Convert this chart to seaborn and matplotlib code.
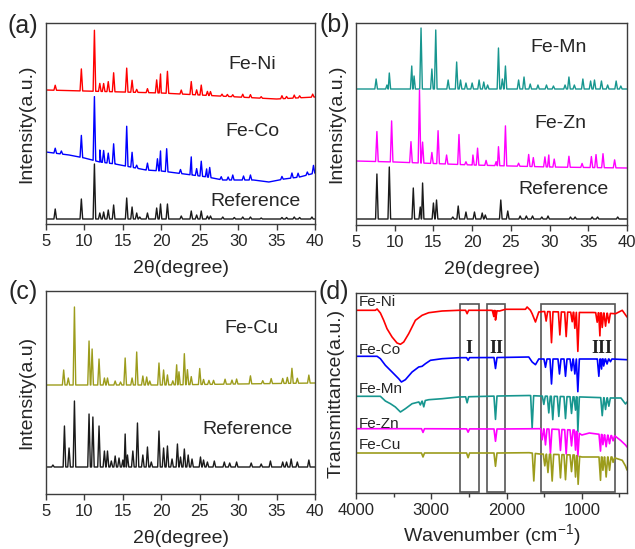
import numpy as np
import pandas as pd
import matplotlib
matplotlib.use('Agg')
from matplotlib import pyplot as plt
from matplotlib.patches import Rectangle
from matplotlib.ticker import MultipleLocator
import seaborn as sns

# ---- (a) XRD: Fe-Ni, Fe-Co, reference (heights in arbitrary units) ----
ni_base_x = [5, 10, 15, 20, 25, 30, 35, 40]
ni_base_y = [134, 133, 132, 131, 129, 127, 125, 127]
ni_pk_x = [6.2, 9.6, 11.3, 12.0, 12.5, 13.1, 13.8, 15.5, 16.2, 16.8, 18.2, 19.4, 19.9, 20.8, 22.6,
           23.9, 24.6, 25.2, 26.0, 26.4, 27.9, 28.6, 29.3, 30.6, 31.6, 33.0, 35.7, 36.3, 37.3, 38.0, 39.7]
ni_pk_i = [5, 22, 61, 8, 8, 10, 19, 24, 12, 3, 4, 13, 19, 22, 4,
           13, 5, 10, 4, 4, 2, 2, 2, 3, 3, 1.5, 3, 2, 3, 2, 3]

co_base_x = [5, 8, 10, 12, 14, 16, 18, 20, 22, 24, 26, 28, 32, 34, 36, 38, 40]
co_base_y = [72, 69, 66, 62, 60, 57, 54, 53, 51, 49, 47, 44, 44, 42, 45, 47, 51]
co_pk_x = [6.2, 7.0, 9.6, 11.3, 12.0, 12.5, 13.1, 13.8, 15.5, 16.2, 16.8, 18.2, 19.5, 19.9, 20.7, 22.5,
           23.9, 24.6, 25.2, 25.9, 26.3, 27.8, 28.7, 29.3, 30.7, 31.6, 35.7, 37.0, 37.8, 39.0, 39.8]
co_pk_i = [5, 3, 22, 64, 12, 12, 10, 20, 40, 15, 3, 7, 12, 20, 23, 4,
           18, 7, 15, 8, 10, 3, 3, 5, 4, 5, 3, 5, 4, 3, 8]

refa_base_x = [5, 40]
refa_base_y = [5, 5]
refa_pk_x = [6.2, 9.6, 11.3, 12.0, 12.5, 13.1, 13.8, 15.5, 16.2, 16.8, 17.2, 18.2, 19.4, 19.9, 20.8, 22.6,
             23.9, 24.6, 25.2, 26.0, 26.4, 28.0, 29.5, 30.6, 31.6, 33.0, 35.7, 36.3, 37.3, 38.0, 39.6]
refa_pk_i = [10, 20, 55, 6, 7, 9, 14, 21, 12, 6, 2, 6, 11, 15, 15, 3,
             8, 4, 8, 3, 3, 2, 1.5, 2, 2, 1, 1.5, 1.5, 2, 1.5, 2]

# ---- (b) XRD: Fe-Mn, Fe-Zn, reference ----
mn_base_x = [5, 40]
mn_base_y = [136, 136]
mn_pk_x = [7.6, 9.0, 9.3, 12.2, 12.5, 13.4, 14.8, 15.3, 16.9, 18.0, 18.5, 19.2, 20.0, 20.9, 21.5, 22.0,
           23.4, 23.9, 24.3, 26.0, 26.7, 27.5, 28.5, 29.6, 30.5, 32.0, 32.5, 33.2, 34.3, 35.3, 35.8,
           36.7, 37.5, 38.6, 39.2]
mn_pk_i = [10, 4, 16, 23, 13, 61, 20, 59, 9, 27, 9, 6, 6, 9, 7, 4,
           41, 10, 23, 9, 12, 5, 4, 4, 3, 4, 12, 4, 10, 8, 9,
           8, 4, 8, 3]

zn_base_x = [5, 10, 20, 30, 40]
zn_base_y = [64, 63, 60, 58, 57]
zn_pk_x = [7.7, 9.6, 12.1, 13.2, 13.6, 14.8, 15.6, 16.7, 18.3, 19.2, 20.1, 20.7, 21.8, 23.1, 23.4,
           24.3, 26.0, 27.3, 27.9, 29.4, 29.9, 30.6, 32.5, 34.2, 35.4, 36.0, 36.9, 38.4]
zn_pk_i = [30, 41, 21, 73, 21, 11, 33, 9, 30, 3, 10, 17, 5, 4, 19,
           40, 3, 12, 9, 10, 12, 8, 11, 4, 11, 13, 14, 8]

refb_base_x = [5, 40]
refb_base_y = [6, 6]
refb_pk_x = [7.7, 9.3, 12.4, 13.3, 13.6, 15.0, 15.4, 17.5, 18.2, 19.2, 20.3, 21.3, 21.7, 23.7, 24.6,
             26.2, 27.0, 27.8, 29.0, 29.8, 32.7, 33.3, 35.5, 36.2, 38.8]
refb_pk_i = [45, 52, 31, 12, 36, 16, 19, 2, 13, 7, 7, 6, 4, 19, 8,
             3, 3, 3, 2, 3, 2, 2, 2, 2, 2]

# ---- (c) XRD: Fe-Cu, reference ----
cu_base_x = [5, 20, 40]
cu_base_y = [109, 109, 111]
cu_pk_x = [7.3, 7.9, 8.7, 10.6, 11.0, 11.9, 12.6, 13.0, 14.0, 14.7, 15.3, 16.2, 16.8, 17.6, 18.1, 18.5,
           19.7, 20.3, 20.8, 21.5, 22.0, 22.3, 23.0, 23.4, 23.9, 25.0, 25.5, 26.2, 26.8, 28.3, 29.2,
           29.8, 31.6, 33.2, 34.3, 35.8, 36.4, 37.0, 37.7, 39.2]
cu_pk_i = [15, 7, 78, 44, 36, 26, 7, 7, 4, 3, 27, 7, 33, 9, 8, 4,
           22, 15, 10, 4, 20, 13, 31, 15, 8, 16, 5, 4, 4, 5, 4,
           5, 8, 3, 5, 5, 6, 15, 5, 8]

refc_base_x = [5, 40]
refc_base_y = [27, 27]
refc_pk_x = [5.9, 7.4, 8.0, 8.7, 10.6, 11.1, 11.9, 12.6, 13.0, 13.5, 14.0, 14.5, 15.0, 15.3, 15.6, 16.3,
             16.9, 17.6, 18.2, 18.7, 19.7, 20.3, 20.8, 21.4, 22.1, 22.5, 23.0, 23.5, 24.0, 25.1, 25.5,
             26.0, 26.9, 28.2, 28.9, 29.8, 31.7, 33.0, 34.2, 35.8, 36.3, 36.9, 37.7, 39.2]
refc_pk_i = [2, 41, 19, 66, 53, 50, 41, 16, 16, 6, 11, 9, 7, 33, 12, 16,
             44, 12, 20, 5, 36, 19, 21, 8, 23, 10, 18, 12, 8, 10, 7,
             5, 6, 5, 4, 5, 4, 3, 6, 5, 5, 8, 5, 7]

# ---- (d) FTIR (wavenumber in cm-1, transmittance in arbitrary units) ----
ni_ir_base_x = [4000, 3743, 3720, 3676, 3632, 3588, 3521, 3455, 3410, 3366, 3300, 3211, 3122, 3034, 2856,
                2635, 2210, 2094, 2015, 1749, 1727, 1683, 1660, 1616, 1572, 1505, 1000, 850, 552, 463, 400]
ni_ir_base_y = [182.7, 182.7, 184, 180, 172.7, 164.3, 156, 150, 148.7, 151, 159.3, 172.7, 177.7, 180.3, 182,
                182.7, 182.7, 182, 183.7, 183.7, 186, 182.7, 179.3, 171, 181, 181.5, 180.5, 180.5, 179.3,
                182.7, 176]
ni_ir_dip_x = [2524, 2169, 2147, 1474, 1403, 1292, 1208, 1128, 1093, 1053, 796, 760, 729, 685, 641]
ni_ir_dip_i = [-3.4, -6, -9.4, -9.5, -31, -23, -24.5, -9.5, -16, -39, -9.5, -23, -14.5, -13, -9.5]

co_ir_base_x = [4000, 3720, 3676, 3610, 3521, 3433, 3397, 3344, 3255, 3167, 3122, 3078, 3011, 2856, 2635,
                2100, 1705, 1660, 1616, 1572, 1505, 1000, 800, 600, 400]
co_ir_base_y = [136.7, 136.7, 134.3, 127.7, 121, 114.3, 111, 113.3, 121, 126, 126.7, 129.3, 132.7, 134.3,
                135.3, 135.5, 136, 131, 128.3, 134, 134, 134, 134, 134, 133.3]
co_ir_dip_x = [2511, 2147, 1483, 1403, 1297, 1217, 1137, 1093, 1053, 774, 738, 710, 665, 620]
co_ir_dip_i = [-2.7, -11, -8.3, -25, -15, -17.3, -11.7, -15, -32.7, -17.3, -10, -7, -5, -2.7]

mn_ir_base_x = [4000, 3676, 3610, 3543, 3477, 3410, 3344, 3255, 3167, 3034, 2856, 2635, 2100, 1700, 1560,
                1000, 600, 480, 420, 400]
mn_ir_base_y = [96.7, 96.7, 92, 89.3, 86, 81, 84.3, 89.3, 91, 93.3, 94.3, 96, 97, 97.5, 97,
                96, 95, 95, 89, 91]
mn_ir_dip_x = [3145, 3100, 2524, 2147, 1660, 1505, 1439, 1386, 1306, 1217, 1137, 1084, 1053, 729, 685, 641]
mn_ir_dip_i = [-3.3, -6, -6, -23.3, -32.3, -8.3, -16.7, -23.3, -20, -22, -16.7, -13.3, -35, -18, -11.7, -8.3]

zn_ir_base_x = [4000, 3200, 2100, 1560, 1100, 1000, 900, 800, 560, 486, 420, 400]
zn_ir_base_y = [64.3, 64.3, 64, 64.3, 63, 58, 60, 59, 57, 52.7, 48, 46]
zn_ir_dip_x = [3110, 2511, 2147, 1527, 1483, 1417, 1284, 1208, 1137, 1084, 1053, 752, 720, 677, 632, 585]
zn_ir_dip_i = [-3.7, -3.3, -12.3, -11, -16, -24.3, -21, -24.3, -16, -19.3, -24.3, -16.7, -10, -11.7, -8.3, -5]

cu_ir_base_x = [4000, 3200, 2100, 1700, 1560, 1100, 1000, 900, 600, 463, 420, 400]
cu_ir_base_y = [40, 40, 40, 40.3, 39, 38, 36, 36, 36, 32.7, 27, 23]
cu_ir_dip_x = [3110, 2511, 2147, 1638, 1492, 1450, 1394, 1284, 1217, 1137, 1084, 1049, 752, 720, 677, 632, 585]
cu_ir_dip_i = [-4, -4.7, -13.3, -27.7, -11.7, -18.3, -26.7, -23.3, -25, -16.7, -21.7, -28.3,
               -23.3, -13.3, -20, -13.3, -5]

ir_regions = [(2620, 2370, 'I'), (2265, 2015, 'II'), (1545, 565, 'III')]

RED, BLUE, BLACK = '#ff0000', '#0000ff', '#1a1a1a'
TEAL, MAGENTA, OLIVE = '#17968f', '#ff00ff', '#9c9c1c'
SPINE = '#3c3c3c'


def _trace(base_x, base_y, pk_x, pk_i, hw):
  # base line through the read points, with a narrow spike/dip at every listed peak
  order = np.argsort(base_x)
  bx = np.asarray(base_x, float)[order]
  by = np.asarray(base_y, float)[order]
  xs = list(bx)
  ys = list(by)
  for p, h in zip(pk_x, pk_i):
    xs += [p - hw, p, p + hw]
    ys += [np.interp(p - hw, bx, by), np.interp(p, bx, by) + h, np.interp(p + hw, bx, by)]
  xs = np.array(xs)
  ys = np.array(ys)
  k = np.argsort(xs, kind='stable')
  return pd.DataFrame({'x': xs[k], 'y': ys[k]})


def _line(ax, df, color, lw):
  sns.lineplot(data=df, x='x', y='y', ax=ax, color=color, lw=lw,
               estimator=None, sort=False, legend=False)


def _frame(ax, ylabel, ymax):
  ax.set_ylim(0, ymax)
  ax.set_yticks([])
  ax.set_ylabel(ylabel, fontsize=14, labelpad=8)
  for s in ax.spines.values():
    s.set_color(SPINE)
    s.set_linewidth(1.0)
  ax.tick_params(axis='x', direction='out', length=4, width=1, labelsize=12,
                 color=SPINE, pad=3)


def _xrd(ax, ylabel, ymax):
  _frame(ax, ylabel, ymax)
  ax.set_xlim(5, 40)
  ax.set_xticks(range(5, 41, 5))
  ax.set_xlabel('2θ(degree)', fontsize=14, labelpad=8)


sns.set_style('ticks')
plt.rcParams['font.family'] = ['Liberation Sans', 'DejaVu Sans']
plt.rcParams['mathtext.default'] = 'regular'

W, H = 635, 549
fig = plt.figure(figsize=(W / 100, H / 100), dpi=100)


def _axes(l, r, t, b):
  return fig.add_axes([l / W, 1 - b / H, (r - l) / W, (b - t) / H])


ax_a = _axes(46, 315, 23, 224)
ax_b = _axes(356, 627, 23, 225)
ax_c = _axes(46, 315, 291, 494)
ax_d = _axes(356, 627, 293, 493)

XW = 0.17
# (a)
_line(ax_a, _trace(ni_base_x, ni_base_y, ni_pk_x, ni_pk_i, XW), RED, 1.0)
_line(ax_a, _trace(co_base_x, co_base_y, co_pk_x, co_pk_i, XW), BLUE, 1.0)
_line(ax_a, _trace(refa_base_x, refa_base_y, refa_pk_x, refa_pk_i, XW), BLACK, 1.0)
_xrd(ax_a, 'Intensity(a.u.)', 201)
ax_a.text(31.9, 160, 'Fe-Ni', fontsize=14, ha='center', va='center')
ax_a.text(31.9, 93, 'Fe-Co', fontsize=14, ha='center', va='center')
ax_a.text(32.3, 23, 'Reference', fontsize=14, ha='center', va='center')

# (b)
_line(ax_b, _trace(mn_base_x, mn_base_y, mn_pk_x, mn_pk_i, XW), TEAL, 1.0)
_line(ax_b, _trace(zn_base_x, zn_base_y, zn_pk_x, zn_pk_i, XW), MAGENTA, 1.0)
_line(ax_b, _trace(refb_base_x, refb_base_y, refb_pk_x, refb_pk_i, XW), BLACK, 1.0)
_xrd(ax_b, 'Intensity(a.u.)', 202)
ax_b.text(31.2, 177.5, 'Fe-Mn', fontsize=14, ha='center', va='center')
ax_b.text(31.4, 101, 'Fe-Zn', fontsize=14, ha='center', va='center')
ax_b.text(31.8, 36, 'Reference', fontsize=14, ha='center', va='center')

# (c)
_line(ax_c, _trace(cu_base_x, cu_base_y, cu_pk_x, cu_pk_i, XW), OLIVE, 1.0)
_line(ax_c, _trace(refc_base_x, refc_base_y, refc_pk_x, refc_pk_i, XW), BLACK, 1.0)
_xrd(ax_c, 'Intensity(a.u)', 203)
ax_c.text(31.7, 165.7, 'Fe-Cu', fontsize=14, ha='center', va='center')
ax_c.text(31.2, 64.8, 'Reference', fontsize=14, ha='center', va='center')

# (d)
IW = 20
ir_sets = [
  (ni_ir_base_x, ni_ir_base_y, ni_ir_dip_x, ni_ir_dip_i, RED, 'Fe-Ni', 191),
  (co_ir_base_x, co_ir_base_y, co_ir_dip_x, co_ir_dip_i, BLUE, 'Fe-Co', 142.7),
  (mn_ir_base_x, mn_ir_base_y, mn_ir_dip_x, mn_ir_dip_i, TEAL, 'Fe-Mn', 104.3),
  (zn_ir_base_x, zn_ir_base_y, zn_ir_dip_x, zn_ir_dip_i, MAGENTA, 'Fe-Zn', 69.3),
  (cu_ir_base_x, cu_ir_base_y, cu_ir_dip_x, cu_ir_dip_i, OLIVE, 'Fe-Cu', 47.7),
]
for bx, by, dx, di, c, name, ty in ir_sets:
  _line(ax_d, _trace(bx, by, dx, di, IW), c, 1.2)
  ax_d.text(3965, ty, name, fontsize=11, ha='left', va='center')
for hi, lo, tag in ir_regions:
  ax_d.add_patch(Rectangle((lo, 1), hi - lo, 188, fill=False, ec='#555555', lw=1.2))
  ax_d.text((hi + lo) / 2 if tag != 'III' else 740, 144.3, tag, fontsize=13, fontweight='bold',
            family=['Liberation Serif', 'DejaVu Serif'], ha='center', va='center', color='#222222')
_frame(ax_d, 'Transmittance(a.u.)', 200)
ax_d.set_xlim(4000, 400)
ax_d.set_xticks([4000, 3000, 2000, 1000])
ax_d.xaxis.set_minor_locator(MultipleLocator(500))
ax_d.tick_params(axis='x', which='minor', direction='out', length=3, width=1, color=SPINE)
ax_d.set_xlabel('Wavenumber (cm$^{-1}$)', fontsize=14, labelpad=3)

for lab, x, y in [('(a)', 23, 26), ('(b)', 335, 25), ('(c)', 23, 292), ('(d)', 334, 292)]:
  fig.text(x / W, 1 - y / H, lab, fontsize=18, ha='center', va='center')

fig.savefig('out.png', dpi=100)
